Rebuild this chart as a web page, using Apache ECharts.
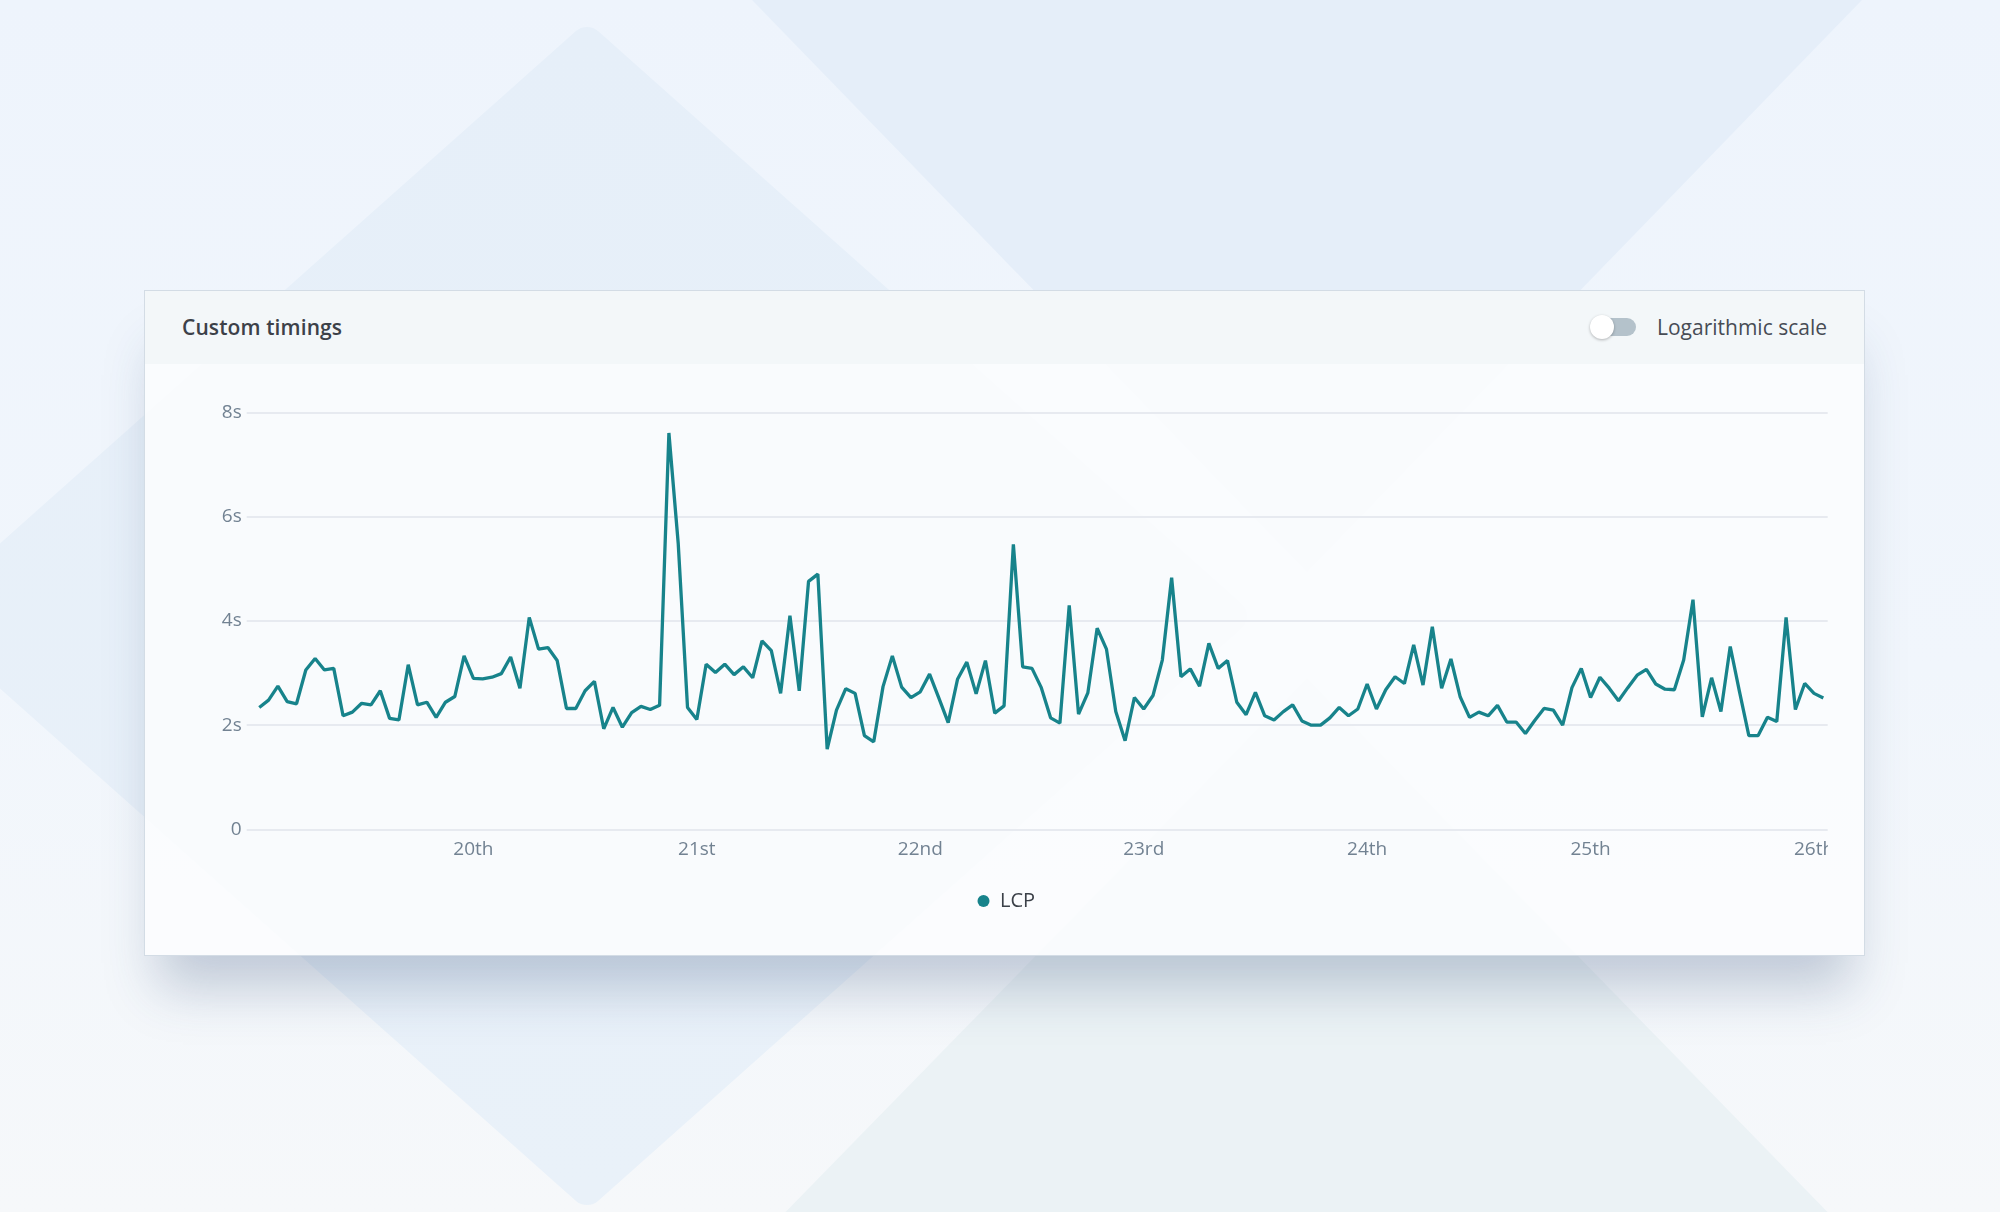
<!DOCTYPE html>
<html>
<head>
<meta charset="utf-8">
<script src="https://cdn.jsdelivr.net/npm/echarts@6/dist/echarts.min.js"></script>
<style>
  html, body { margin: 0; padding: 0; width: 2000px; height: 1212px; overflow: hidden; }
  body { position: relative; background: linear-gradient(180deg, #eef4fc 0%, #f1f6fc 55%, #f6f8fa 100%); font-family: "Open Sans", "Noto Sans", sans-serif; }
  #bg { position: absolute; left: 0; top: 0; width: 2000px; height: 1212px; }
  #card { position: absolute; left: 144px; top: 290px; width: 1719px; height: 664px; border: 1px solid #d3dce5; box-shadow: 0 46px 50px -14px rgba(45, 75, 115, 0.26); background: rgba(252, 253, 254, 0.86); }
  #head { position: absolute; left: 0; top: 0; width: 100%; height: 73px; background: rgba(242, 246, 249, 0.93); }
  #title { position: absolute; left: 37px; top: 21px; font-size: 21px; font-weight: 600; color: #3c4149; line-height: 30px; letter-spacing: 0.1px; }
  #toggle { position: absolute; left: 1447px; top: 27px; width: 44px; height: 18px; border-radius: 9px; background: #b4c2cb; }
  #knob { position: absolute; left: 1445px; top: 24px; width: 24px; height: 24px; border-radius: 50%; background: #fff; box-shadow: 0 1px 3px rgba(0,0,0,0.28); }
  #logtxt { position: absolute; left: 1512px; top: 21px; font-size: 21px; color: #474c55; line-height: 30px; }
  #chart { position: absolute; left: 145px; top: 364px; width: 1683px; height: 592px; }
</style>
</head>
<body>
<svg id="bg" viewBox="0 0 2000 1212" xmlns="http://www.w3.org/2000/svg">
  <defs>
    <linearGradient id="gL" x1="0" y1="0" x2="0" y2="1">
      <stop offset="0" stop-color="#e6eff9"/>
      <stop offset="1" stop-color="#e9f1f9"/>
    </linearGradient>
  </defs>
  <polygon points="587,44 1230,616 587,1188 -56,616" fill="url(#gL)" stroke="url(#gL)" stroke-width="34" stroke-linejoin="round"/>
  <polygon points="752,0 1862,0 1307,572" fill="#e5eef9"/>
  <polygon points="1307,678 1845,1230 768,1230" fill="#ebf2f5"/>
</svg>

<div id="card">
  <div id="head">
    <div id="title">Custom timings</div>
    <div id="toggle"></div>
    <div id="knob"></div>
    <div id="logtxt">Logarithmic scale</div>
  </div>
</div>
<div id="chart"></div>

<script>
// ---- data ----
const startHour = 1;              // first sample: 19th 01:00 (hours counted from 19th 00:00)
const dayTicks = [24, 48, 72, 96, 120, 144, 168];
const dayLabels = ['20th', '21st', '22nd', '23rd', '24th', '25th', '26th'];
const yTicks = [0, 2, 4, 6, 8];
const seriesName = 'LCP';
const lcpSeconds = [
  2.34,2.48,2.75,2.45,2.41,3.06,3.28,3.06,3.09,2.18,2.25,2.42,2.39,2.66,2.13,2.10,3.16,2.39,2.44,2.15,2.44,2.55,3.33,2.90,2.89,2.92,2.99,
  3.31,2.71,4.07,3.46,3.49,3.24,2.32,2.32,2.66,2.84,1.93,2.34,1.96,2.24,2.36,2.30,2.38,7.61,5.49,2.34,2.11,3.17,3.01,3.17,2.97,3.12,2.91,3.62,3.43,
  2.61,4.10,2.66,4.76,4.90,1.54,2.29,2.70,2.61,1.80,1.68,2.74,3.33,2.73,2.53,2.64,2.98,2.52,2.05,2.88,3.21,2.60,3.24,2.23,2.37,5.47,3.12,3.09,
  2.72,2.14,2.04,4.30,2.21,2.62,3.86,3.46,2.26,1.70,2.53,2.31,2.57,3.25,4.83,2.93,3.08,2.75,3.57,3.09,3.24,2.44,2.20,2.63,2.18,2.10,2.26,2.39,2.08,2.00,
  2.00,2.14,2.34,2.18,2.31,2.79,2.31,2.68,2.93,2.80,3.54,2.77,3.89,2.71,3.27,2.54,2.15,2.25,2.18,2.38,2.06,2.06,1.84,2.09,2.32,2.29,2.00,2.72,
  3.09,2.53,2.92,2.71,2.47,2.72,2.96,3.07,2.79,2.69,2.68,3.25,4.41,2.16,2.91,2.26,3.51,2.64,1.80,1.80,2.15,2.07,4.07,2.30,2.80,2.61,2.52
];

const points = lcpSeconds.map((v, i) => [startHour + i, v]);

const chart = echarts.init(document.getElementById('chart'), null, { renderer: 'canvas' });
chart.setOption({
  animation: false,
  textStyle: { fontFamily: '"Open Sans", "Noto Sans", sans-serif' },
  grid: { left: 101.7, top: 48.7, right: 0.3, bottom: 126.7, containLabel: false, outerBoundsMode: 'none' },
  legend: {
    data: [seriesName],
    left: 827.5,
    top: 522,
    icon: 'circle',
    itemWidth: 23,
    itemHeight: 12,
    textStyle: { fontSize: 20, color: '#3b4048' }
  },
  xAxis: {
    type: 'value',
    min: -0.35,
    max: 169.47,
    axisLine: { show: false },
    axisTick: { show: false },
    splitLine: { show: false },
    axisLabel: {
      customValues: dayTicks,
      formatter: function (v) { const k = dayTicks.indexOf(Math.round(v)); return k >= 0 ? dayLabels[k] : ''; },
      fontSize: 19,
      color: '#728292',
      margin: 11,
      showMinLabel: true,
      showMaxLabel: true
    }
  },
  yAxis: {
    type: 'value',
    min: yTicks[0],
    max: yTicks[yTicks.length - 1],
    interval: 2,
    axisLine: { show: false },
    axisTick: { show: false },
    splitLine: { lineStyle: { color: '#e0e5eb', width: 1.5 } },
    axisLabel: {
      fontSize: 19,
      color: '#728292',
      margin: 5,
      formatter: function (v) { return v === 0 ? '0' : v + 's'; }
    }
  },
  series: [{
    name: seriesName,
    type: 'line',
    data: points,
    showSymbol: false,
    symbol: 'circle',
    color: '#17838b',
    lineStyle: { width: 3.3, color: '#17838b' },
    itemStyle: { color: '#17838b' }
  }]
});
</script>
</body>
</html>
